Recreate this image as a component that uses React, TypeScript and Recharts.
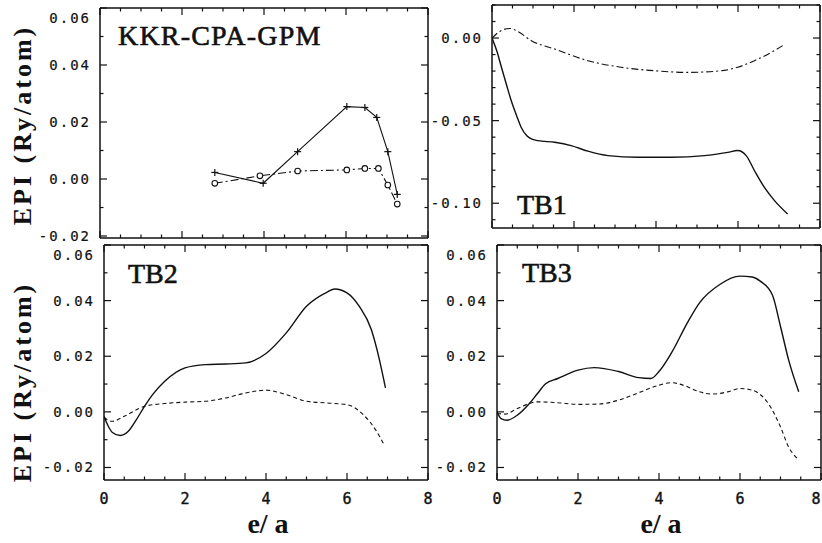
import { LineChart, Line, XAxis, YAxis } from "recharts"

// e/a grid shared by all four panels
const xTicks = [0, 0.5, 1, 1.5, 2, 2.5, 3, 3.5, 4, 4.5, 5, 5.5, 6, 6.5, 7, 7.5, 8]
const yTicksSmall = [-0.02, -0.01, 0, 0.01, 0.02, 0.03, 0.04, 0.05, 0.06]
const yTicksTB1 = [-0.11, -0.1, -0.09, -0.08, -0.07, -0.06, -0.05, -0.04, -0.03, -0.02, -0.01, 0, 0.01, 0.02]

// KKR-CPA-GPM (symbols)
const kkrPlusX = [2.8, 3.98, 4.82, 6.02, 6.46, 6.75, 7.02, 7.25]
const kkrPlusY = [0.0023, -0.0015, 0.0096, 0.0254, 0.0251, 0.0216, 0.0096, -0.0054]
const kkrCircX = [2.8, 3.9, 4.82, 6.02, 6.46, 6.79, 7.02, 7.25]
const kkrCircY = [-0.0015, 0.0011, 0.0028, 0.0032, 0.0037, 0.0037, -0.0021, -0.0088]

// TB1
const tb1SolidX = [0, 0.12, 0.23, 0.35, 0.47, 0.6, 0.71, 0.85, 0.96, 1.12, 1.53, 1.93, 2.34, 2.83, 3.56, 4.37, 5.18, 5.75, 5.99, 6.2, 6.4, 6.64, 6.89, 7.21]
const tb1SolidY = [0, -0.008, -0.0177, -0.028, -0.038, -0.047, -0.054, -0.0592, -0.0611, -0.0621, -0.0631, -0.0651, -0.0685, -0.0712, -0.0722, -0.0722, -0.0712, -0.0692, -0.0681, -0.0712, -0.0802, -0.0903, -0.0984, -0.1065]
const tb1DashX = [0, 0.19, 0.43, 0.63, 0.96, 1.53, 2.34, 3.15, 3.96, 4.78, 5.59, 5.99, 6.4, 6.81, 7.13]
const tb1DashY = [0, 0.004, 0.0058, 0.004, -0.0016, -0.0067, -0.0137, -0.0177, -0.0198, -0.0208, -0.0198, -0.0177, -0.0137, -0.0087, -0.004]

// TB2
const tb2SolidX = [0, 0.1, 0.2, 0.4, 0.6, 0.8, 1.0, 1.2, 1.5, 2.0, 2.5, 3.0, 3.5, 4.0, 4.5, 5.0, 5.5, 5.7, 6.0, 6.3, 6.6, 6.8, 6.95]
const tb2SolidY = [-0.0016, -0.005, -0.0073, -0.0085, -0.007, -0.0028, 0.002, 0.0062, 0.011, 0.0158, 0.017, 0.0172, 0.0176, 0.021, 0.0284, 0.038, 0.043, 0.0442, 0.0428, 0.038, 0.0296, 0.0188, 0.0086]
const tb2DashX = [0, 0.2, 0.5, 1.0, 1.5, 2.0, 2.5, 3.0, 3.5, 4.0, 4.5, 5.0, 5.5, 6.0, 6.4, 6.7, 6.9]
const tb2DashY = [-0.002, -0.0034, -0.0016, 0.002, 0.003, 0.0035, 0.0038, 0.005, 0.0068, 0.0078, 0.0062, 0.0038, 0.0032, 0.0026, -0.001, -0.0063, -0.0114]

// TB3
const tb3SolidX = [0, 0.1, 0.25, 0.5, 0.8, 1.0, 1.2, 1.5, 2.0, 2.4, 3.0, 3.5, 3.8, 4.0, 4.3, 4.7, 5.0, 5.5, 6.0, 6.3, 6.5, 6.8, 7.0, 7.2, 7.45]
const tb3SolidY = [0, -0.0024, -0.003, -0.0012, 0.003, 0.0066, 0.0101, 0.012, 0.015, 0.0159, 0.0145, 0.0123, 0.012, 0.0145, 0.021, 0.032, 0.0392, 0.0458, 0.0488, 0.0485, 0.047, 0.042, 0.0307, 0.0187, 0.0072]
const tb3DashX = [0, 0.2, 0.5, 1.0, 1.5, 2.0, 2.5, 3.0, 3.5, 4.0, 4.3, 4.6, 5.0, 5.3, 5.7, 6.0, 6.3, 6.7, 7.0, 7.2, 7.45]
const tb3DashY = [-0.0006, -0.0008, 0.0012, 0.0036, 0.0033, 0.0027, 0.0028, 0.0042, 0.0069, 0.0096, 0.0105, 0.0096, 0.0072, 0.0064, 0.0072, 0.0084, 0.0078, 0.003, -0.0054, -0.0126, -0.0172]

const pts = (xs: number[], ys: number[]) => xs.map((x, i) => ({ x, y: ys[i] }))

const INK = "#111"
const MONO = "'DejaVu Sans Mono', monospace"
const SERIF = "'Liberation Serif', 'Times New Roman', serif"

// outer margins around each plot box; the four frame axes take 1px each
const ML = 60
const MT = 12
const MR = 12
const MB = 40

function fmt(v: number) {
  const s = v.toFixed(2)
  return s === "-0.00" ? "0.00" : s
}

function isMajorY(v: number, step: number) {
  return Math.round(v * 100) % Math.round(step * 100) === 0
}

// ─── inward ticks for the four sides of each box ────────────────────────────

function BottomTick(props: any) {
  const { x, y, payload, labels, maxX } = props
  const v = payload.value
  const major = v % 2 === 0
  // keep the last label inside the picture when the box touches its edge
  const lx = maxX != null ? Math.min(x, maxX) : x
  return (
    <g>
      <line x1={x} x2={x} y1={y} y2={y - (major ? 7 : 3.5)} stroke={INK} strokeWidth={1.2} />
      {labels && major && (
        <text
          x={lx}
          y={y + 24}
          textAnchor="middle"
          fontFamily={MONO}
          fontSize={15}
          fill={INK}
          stroke={INK}
          strokeWidth={0.4}
        >
          {v}
        </text>
      )}
    </g>
  )
}

function TopTick(props: any) {
  const { x, y, payload } = props
  const major = payload.value % 2 === 0
  return <line x1={x} x2={x} y1={y} y2={y + (major ? 7 : 3.5)} stroke={INK} strokeWidth={1.2} />
}

function LeftTick(props: any) {
  const { x, y, payload, step, top } = props
  const v = payload.value
  const major = isMajorY(v, step)
  const shift = Math.abs(v - top) < 1e-9 ? 10 : 0
  return (
    <g>
      <line x1={x} x2={x + (major ? 7 : 3.5)} y1={y} y2={y} stroke={INK} strokeWidth={1.2} />
      {major && (
        <text
          x={x - 9}
          y={y + 5 + shift}
          textAnchor="end"
          fontFamily={MONO}
          fontSize={14}
          letterSpacing={2}
          fill={INK}
          stroke={INK}
          strokeWidth={0.2}
        >
          {fmt(v)}
        </text>
      )}
    </g>
  )
}

function RightTick(props: any) {
  const { x, y, payload, step } = props
  const major = isMajorY(payload.value, step)
  return <line x1={x} x2={x - (major ? 7 : 3.5)} y1={y} y2={y} stroke={INK} strokeWidth={1.2} />
}

function PlusDot(props: any) {
  const { cx, cy } = props
  if (cx == null || cy == null) return null
  return (
    <g>
      <line x1={cx - 3.5} x2={cx + 3.5} y1={cy} y2={cy} stroke={INK} strokeWidth={1.2} />
      <line x1={cx} x2={cx} y1={cy - 3.5} y2={cy + 3.5} stroke={INK} strokeWidth={1.2} />
    </g>
  )
}

// ─── one framed panel ───────────────────────────────────────────────────────

interface PanelProps {
  left: number
  top: number
  width: number
  height: number
  yDomain: [number, number]
  yTicks: number[]
  yStep: number
  yTop: number
  xLabels: boolean
  children: React.ReactNode
}

function Panel({ left, top, width, height, yDomain, yTicks, yStep, yTop, xLabels, children }: PanelProps) {
  const frame = { stroke: INK, strokeWidth: 1.5 }
  // chart-local x beyond which a bottom label would leave the 822px picture
  const maxX = 822 - 6 - (left - ML)
  return (
    <div style={{ position: "absolute", left: left - ML, top: top - MT }}>
      <LineChart
        width={width + ML + MR}
        height={height + MT + MB}
        margin={{ top: MT - 1, right: MR - 1, bottom: MB - 1, left: ML - 1 }}
      >
        <XAxis
          xAxisId="b"
          type="number"
          dataKey="x"
          domain={[0, 8]}
          ticks={xTicks}
          interval={0}
          allowDataOverflow
          height={1}
          tickSize={0}
          tickMargin={0}
          tickLine={false}
          axisLine={frame}
          tick={(p: any) => <BottomTick {...p} labels={xLabels} maxX={maxX} />}
        />
        <XAxis
          xAxisId="t"
          orientation="top"
          type="number"
          dataKey="x"
          domain={[0, 8]}
          ticks={xTicks}
          interval={0}
          allowDataOverflow
          height={1}
          tickSize={0}
          tickMargin={0}
          tickLine={false}
          axisLine={frame}
          tick={(p: any) => <TopTick {...p} />}
        />
        <YAxis
          yAxisId="l"
          type="number"
          domain={yDomain}
          ticks={yTicks}
          interval={0}
          allowDataOverflow
          width={1}
          tickSize={0}
          tickMargin={0}
          tickLine={false}
          axisLine={frame}
          tick={(p: any) => <LeftTick {...p} step={yStep} top={yTop} />}
        />
        <YAxis
          yAxisId="r"
          orientation="right"
          type="number"
          domain={yDomain}
          ticks={yTicks}
          interval={0}
          allowDataOverflow
          width={1}
          tickSize={0}
          tickMargin={0}
          tickLine={false}
          axisLine={frame}
          tick={(p: any) => <RightTick {...p} step={yStep} />}
        />
        {/* invisible series so the top/right frame axes get their scales */}
        <Line
          xAxisId="t"
          yAxisId="r"
          data={[{ x: 0, y: yDomain[0] }, { x: 8, y: yDomain[1] }]}
          dataKey="y"
          stroke="none"
          dot={false}
          isAnimationActive={false}
        />
        {children}
      </LineChart>
    </div>
  )
}

export default function App() {
  const solid = { stroke: INK, strokeWidth: 1.4, dot: false, isAnimationActive: false, xAxisId: "b", yAxisId: "l", dataKey: "y" }
  const title = { fontFamily: SERIF, fontSize: 28, fill: INK, stroke: INK, strokeWidth: 0.6 }
  const axisTitle = { fontFamily: SERIF, fontWeight: "bold", fill: INK }
  return (
    <div
      style={{
        position: "absolute",
        left: 0,
        top: 0,
        width: 822,
        height: 543,
        background: "#fff",
        overflow: "hidden",
      }}
    >
      <Panel left={100} top={8} width={328} height={230} yDomain={[-0.0207, 0.06]} yTicks={yTicksSmall} yStep={0.02} yTop={0.06} xLabels={false}>
        <Line
          xAxisId="b"
          yAxisId="l"
          data={pts(kkrPlusX, kkrPlusY)}
          dataKey="y"
          type="linear"
          stroke={INK}
          strokeWidth={1.1}
          dot={(p: any) => <PlusDot key={p.index} {...p} />}
          isAnimationActive={false}
        />
        <Line
          xAxisId="b"
          yAxisId="l"
          data={pts(kkrCircX, kkrCircY)}
          dataKey="y"
          type="linear"
          stroke={INK}
          strokeWidth={1.1}
          strokeDasharray="8 3 2 3"
          dot={{ r: 2.8, fill: "#fff", stroke: INK, strokeWidth: 1.1, strokeDasharray: "" }}
          isAnimationActive={false}
        />
      </Panel>

      <Panel left={492} top={5} width={328} height={223} yDomain={[-0.115, 0.02]} yTicks={yTicksTB1} yStep={0.05} yTop={0.02} xLabels={false}>
        <Line {...solid} type="monotone" data={pts(tb1SolidX, tb1SolidY)} />
        <Line {...solid} type="monotone" strokeWidth={1.1} strokeDasharray="7 3 2 3" data={pts(tb1DashX, tb1DashY)} />
      </Panel>

      <Panel left={104} top={245} width={324} height={235} yDomain={[-0.0245, 0.06]} yTicks={yTicksSmall} yStep={0.02} yTop={0.06} xLabels>
        <Line {...solid} type="monotone" data={pts(tb2SolidX, tb2SolidY)} />
        <Line {...solid} type="monotone" strokeWidth={1.1} strokeDasharray="4 3" data={pts(tb2DashX, tb2DashY)} />
      </Panel>

      <Panel left={497} top={245} width={324} height={235} yDomain={[-0.0245, 0.06]} yTicks={yTicksSmall} yStep={0.02} yTop={0.06} xLabels>
        <Line {...solid} type="monotone" data={pts(tb3SolidX, tb3SolidY)} />
        <Line {...solid} type="monotone" strokeWidth={1.1} strokeDasharray="4 3" data={pts(tb3DashX, tb3DashY)} />
      </Panel>

      <svg
        width={822}
        height={543}
        style={{ position: "absolute", left: 0, top: 0, pointerEvents: "none" }}
      >
        <text x={118} y={45} letterSpacing={1.2} {...title}>KKR-CPA-GPM</text>
        <text x={517} y={214} {...title}>TB1</text>
        <text x={128} y={283} {...title}>TB2</text>
        <text x={522} y={282} {...title}>TB3</text>

        <text transform="translate(31,125) rotate(-90)" textAnchor="middle" fontSize={26} letterSpacing={3} {...axisTitle}>
          EPI  (Ry/atom)
        </text>
        <text transform="translate(31,382) rotate(-90)" textAnchor="middle" fontSize={26} letterSpacing={3} {...axisTitle}>
          EPI  (Ry/atom)
        </text>

        <text x={268} y={533} textAnchor="middle" fontSize={28} {...axisTitle}>e/ a</text>
        <text x={661} y={533} textAnchor="middle" fontSize={28} {...axisTitle}>e/ a</text>
      </svg>
    </div>
  )
}
